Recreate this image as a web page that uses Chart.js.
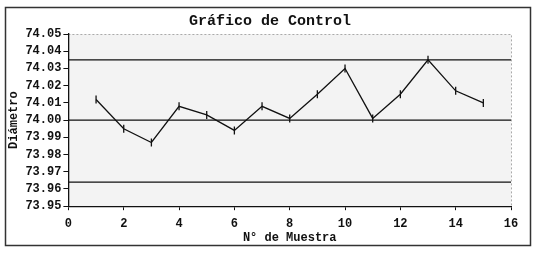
<!DOCTYPE html>
<html lang="es">
<head>
    <meta charset="UTF-8">
    <title>Gráfico de Control</title>
    <script src="https://cdn.jsdelivr.net/npm/chart.js"></script>
    <style>
        body {
            margin: 0;
            background-color: #fff;
        }
        #chartContainer {
            width: 541px;
            height: 253px;
        }
    </style>
</head>
<body>
    <div id="chartContainer">
        <canvas id="myChart"></canvas>
    </div>

    <script>
        // sample numbers and measured diameter
        var muestras = [1, 2, 3, 4, 5, 6, 7, 8, 9, 10, 11, 12, 13, 14, 15];
        var diametro = [74.012, 73.995, 73.987, 74.008, 74.003, 73.994, 74.008, 74.001,
                        74.015, 74.030, 74.001, 74.015, 74.035, 74.017, 74.010];
        // control limits
        var lsc = 74.035;
        var lc = 74.000;
        var lic = 73.964;
        var xLimites = [0, 16];

        var fuente = "'Liberation Mono', 'Courier New', monospace";

        function linea(valor) {
            return xLimites.map(function (x) { return { x: x, y: valor }; });
        }

        // outer frame and plot background
        var marco = {
            id: 'marco',
            afterLayout: function (chart) {
                // the title sits centred on the whole frame, not on the padded box
                if (chart.titleBlock) {
                    chart.titleBlock.left += 11;
                    chart.titleBlock.right += 11;
                }
            },
            beforeDraw: function (chart) {
                var ctx = chart.ctx;
                var a = chart.chartArea;
                ctx.save();
                ctx.fillStyle = '#f3f3f3';
                ctx.fillRect(a.left, a.top, a.right - a.left, a.bottom - a.top);
                ctx.strokeStyle = '#aaa';
                ctx.lineWidth = 1;
                ctx.setLineDash([2, 2]);
                ctx.beginPath();
                ctx.moveTo(a.left, a.top + 0.5);
                ctx.lineTo(a.right + 0.5, a.top + 0.5);
                ctx.lineTo(a.right + 0.5, a.bottom);
                ctx.stroke();
                ctx.setLineDash([]);
                ctx.strokeStyle = '#333';
                ctx.lineWidth = 1.5;
                ctx.strokeRect(5.5, 7.5, 525, 238);
                ctx.restore();
            }
        };

        var ctx = document.getElementById('myChart').getContext('2d');
        var myChart = new Chart(ctx, {
            type: 'scatter',
            data: {
                datasets: [{
                    label: 'Diámetro',
                    data: muestras.map(function (m, i) { return { x: m, y: diametro[i] }; }),
                    showLine: true,
                    borderColor: '#111',
                    backgroundColor: '#111',
                    borderWidth: 1.3,
                    pointStyle: 'line',
                    rotation: 90,
                    pointRadius: 4,
                    pointBorderWidth: 1.3
                }, {
                    label: 'LSC',
                    data: linea(lsc),
                    showLine: true,
                    borderColor: '#111',
                    borderWidth: 1.3,
                    pointRadius: 0
                }, {
                    label: 'LC',
                    data: linea(lc),
                    showLine: true,
                    borderColor: '#111',
                    borderWidth: 1.3,
                    pointRadius: 0
                }, {
                    label: 'LIC',
                    data: linea(lic),
                    showLine: true,
                    borderColor: '#111',
                    borderWidth: 1.3,
                    pointRadius: 0
                }]
            },
            options: {
                responsive: true,
                maintainAspectRatio: false,
                animation: false,
                layout: {
                    padding: { left: 7, right: 30, top: 6, bottom: 8 }
                },
                plugins: {
                    legend: { display: false },
                    tooltip: { enabled: false },
                    title: {
                        display: true,
                        text: 'Gráfico de Control',
                        color: '#111',
                        font: { family: fuente, size: 15, weight: 'bold' },
                        padding: { top: 6, bottom: 4 }
                    }
                },
                scales: {
                    x: {
                        type: 'linear',
                        min: 0,
                        max: 16,
                        ticks: {
                            stepSize: 2,
                            color: '#111',
                            font: { family: fuente, size: 12, weight: 'bold' },
                            padding: 7
                        },
                        grid: {
                            display: true,
                            drawOnChartArea: false,
                            tickLength: 4,
                            color: '#111'
                        },
                        border: { color: '#111', width: 1.3 },
                        title: {
                            display: true,
                            text: 'N° de Muestra',
                            color: '#111',
                            font: { family: fuente, size: 12, weight: 'bold' },
                            padding: { top: -8, bottom: 0 }
                        }
                    },
                    y: {
                        min: 73.95,
                        max: 74.05,
                        ticks: {
                            stepSize: 0.01,
                            autoSkip: false,
                            color: '#111',
                            font: { family: fuente, size: 12, weight: 'bold' },
                            padding: 2,
                            callback: function (v) { return v.toFixed(2); }
                        },
                        grid: {
                            display: true,
                            drawOnChartArea: false,
                            tickLength: 5,
                            color: '#111'
                        },
                        border: { color: '#111', width: 1.3 },
                        title: {
                            display: true,
                            text: 'Diámetro',
                            color: '#111',
                            font: { family: fuente, size: 12, weight: 'bold' },
                            padding: { top: 0, bottom: 2 }
                        }
                    }
                }
            },
            plugins: [marco]
        });
    </script>
</body>
</html>
